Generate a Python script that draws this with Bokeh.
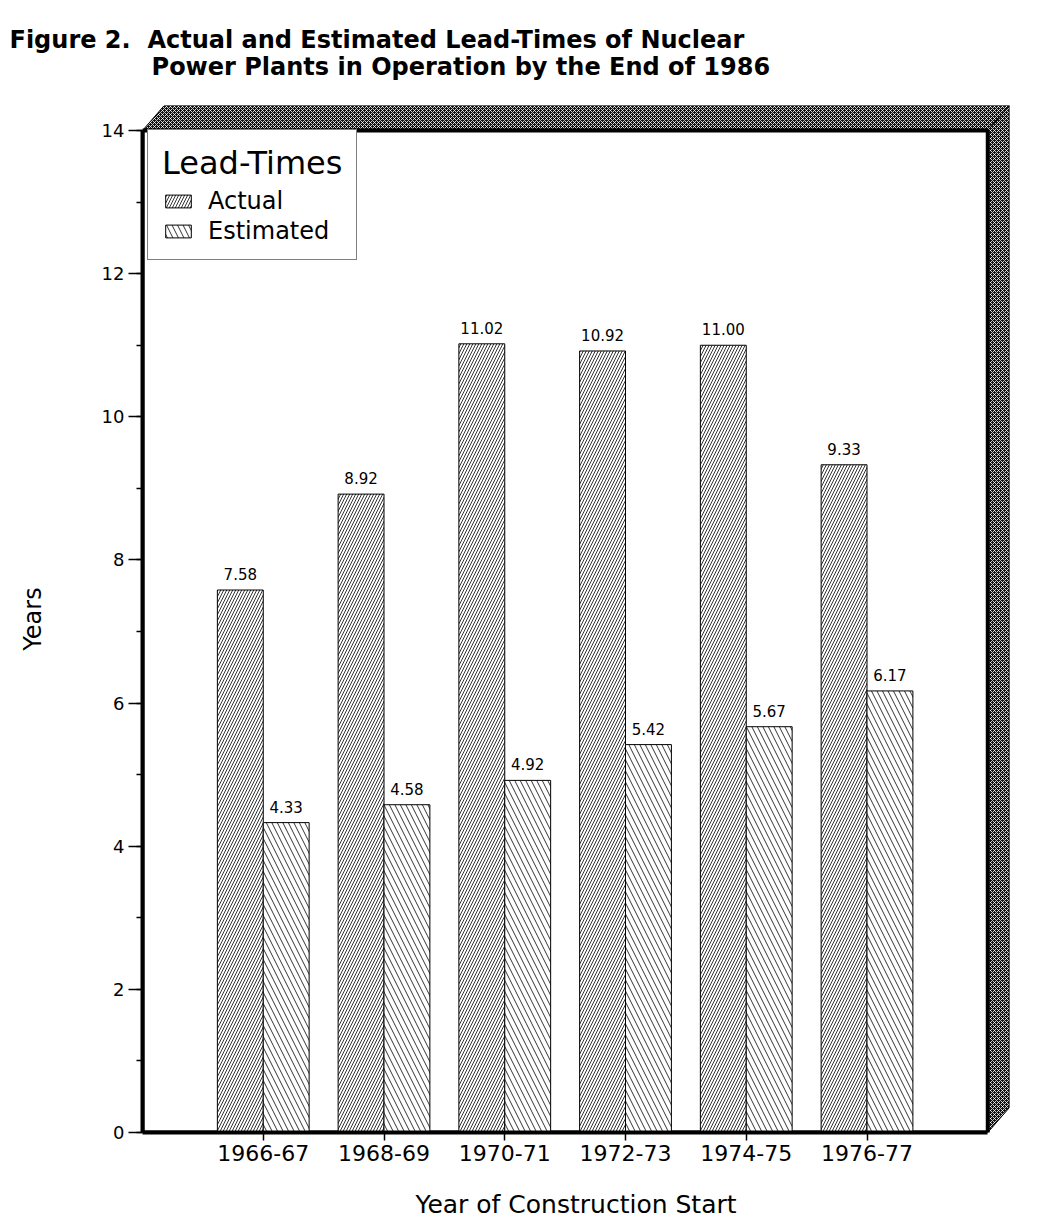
from bokeh.plotting import figure
from bokeh.models import (Range1d, SingleIntervalTicker, FixedTicker, Legend, LegendItem,
                          Title, ColumnDataSource)
from bokeh.transform import dodge
from bokeh.core.properties import value
from bokeh.embed import file_html
from bokeh.resources import INLINE

# ---- data ----
categories = ["1966-67", "1968-69", "1970-71", "1972-73", "1974-75", "1976-77"]
actual = [7.58, 8.92, 11.02, 10.92, 11.00, 9.33]
estimated = [4.33, 4.58, 4.92, 5.42, 5.67, 6.17]
y_ticks_max = 14

FONT = "DejaVu Sans"
x_pos = list(range(1, len(categories) + 1))
x_end = len(categories) + 1
depth_x, depth_y = 0.18, 0.35

src = ColumnDataSource(dict(
    x=x_pos, actual=actual, estimated=estimated,
    actual_lbl=["%.2f" % v for v in actual],
    est_lbl=["%.2f" % v for v in estimated],
))

p = figure(width=1029, height=1224, output_backend="svg", toolbar_location=None,
           x_range=Range1d(0, x_end + depth_x), y_range=Range1d(0, y_ticks_max + depth_y),
           min_border_left=142, min_border_right=20, min_border_top=105, min_border_bottom=92)
p.title.visible = False
p.outline_line_color = None
p.xgrid.visible = False
p.ygrid.visible = False
p.background_fill_color = "white"

# ---- 3D shadow frame ----
shade_xs = [[0, depth_x, x_end + depth_x, x_end],
            [x_end, x_end + depth_x, x_end + depth_x, x_end]]
shade_ys = [[y_ticks_max, y_ticks_max + depth_y, y_ticks_max + depth_y, y_ticks_max],
            [y_ticks_max, y_ticks_max + depth_y, depth_y, 0]]
p.patches(shade_xs, shade_ys, fill_color="#111111", hatch_pattern="x",
          hatch_color="white", hatch_scale=4, hatch_weight=0.8,
          line_color="black", line_width=1)
p.quad(left=0, right=x_end, bottom=0, top=y_ticks_max, fill_color=None,
       line_color="black", line_width=4)

# ---- bars ----
bw = 0.38
r_act = p.vbar(x=dodge("x", -bw / 2, range=p.x_range), top="actual", width=bw, source=src,
               fill_color="white", line_color="black", line_width=1,
               hatch_pattern="/", hatch_color="black", hatch_scale=6, hatch_weight=0.8)
r_est = p.vbar(x=dodge("x", bw / 2, range=p.x_range), top="estimated", width=bw, source=src,
               fill_color="white", line_color="black", line_width=1,
               hatch_pattern="\\", hatch_color="black", hatch_scale=11, hatch_weight=0.8)

p.text(x=dodge("x", -bw / 2, range=p.x_range), y="actual", text="actual_lbl", source=src,
       text_align="center", text_baseline="bottom", y_offset=-10,
       text_font=value(FONT), text_font_size="15px", text_color="black")
p.text(x=dodge("x", bw / 2, range=p.x_range), y="estimated", text="est_lbl", source=src,
       text_align="center", text_baseline="bottom", y_offset=-10,
       text_font=value(FONT), text_font_size="15px", text_color="black")

# ---- axes ----
ya = p.yaxis[0]
ya.ticker = SingleIntervalTicker(interval=2, num_minor_ticks=2)
ya.bounds = (0, y_ticks_max)
ya.axis_line_width = 4
ya.major_tick_in = 0
ya.major_tick_out = 14
ya.minor_tick_in = 0
ya.minor_tick_out = 6
ya.major_tick_line_width = 1.5
ya.minor_tick_line_width = 1.5
ya.major_label_text_font = FONT
ya.major_label_text_font_size = "18px"
ya.major_label_text_color = "black"
ya.major_label_standoff = 4
ya.axis_label = "Years"
ya.axis_label_text_font = FONT
ya.axis_label_text_font_size = "24px"
ya.axis_label_text_font_style = "normal"
ya.axis_label_text_color = "black"
ya.axis_label_standoff = 52

xa = p.xaxis[0]
xa.ticker = FixedTicker(ticks=x_pos)
xa.major_label_overrides = {x: c for x, c in zip(x_pos, categories)}
xa.bounds = (0, x_end)
xa.axis_line_width = 4
xa.major_tick_in = 0
xa.major_tick_out = 8
xa.major_tick_line_width = 1.5
xa.minor_tick_line_color = None
xa.major_label_text_font = FONT
xa.major_label_text_font_size = "22px"
xa.major_label_text_color = "black"
xa.major_label_standoff = 4
xa.axis_label = "Year of Construction Start"
xa.axis_label_text_font = FONT
xa.axis_label_text_font_size = "25px"
xa.axis_label_text_font_style = "normal"
xa.axis_label_text_color = "black"
xa.axis_label_standoff = 26

# ---- legend ----
legend = Legend(items=[LegendItem(label="Actual", renderers=[r_act]),
                       LegendItem(label="Estimated", renderers=[r_est])],
                location=(5, 872), title="Lead-Times",
                title_text_font=FONT, title_text_font_size="32px", title_text_font_style="normal",
                title_text_color="black",
                label_text_font=FONT, label_text_font_size="24px", label_text_color="black",
                glyph_width=32, glyph_height=16, label_standoff=14,
                label_height=24, spacing=2, padding=14, margin=0,
                border_line_color="black", border_line_width=1,
                background_fill_color="white", background_fill_alpha=1)
p.add_layout(legend)

# ---- title (two lines, second indented under "Actual") ----
title_text = ("Figure 2.\u00a0\u00a0Actual and Estimated Lead-Times of Nuclear\n"
              + "\u00a0" * 17 + "Power Plants in Operation by the End of 1986")
t1 = Title(text=title_text, align="left", offset=-133, text_color="black",
           text_font=FONT, text_font_size="24px", text_font_style="bold",
           text_line_height=0.95, vertical_align="top", standoff=45)
p.add_layout(t1, "above")

open("out.html", "w").write(file_html(p, INLINE))
